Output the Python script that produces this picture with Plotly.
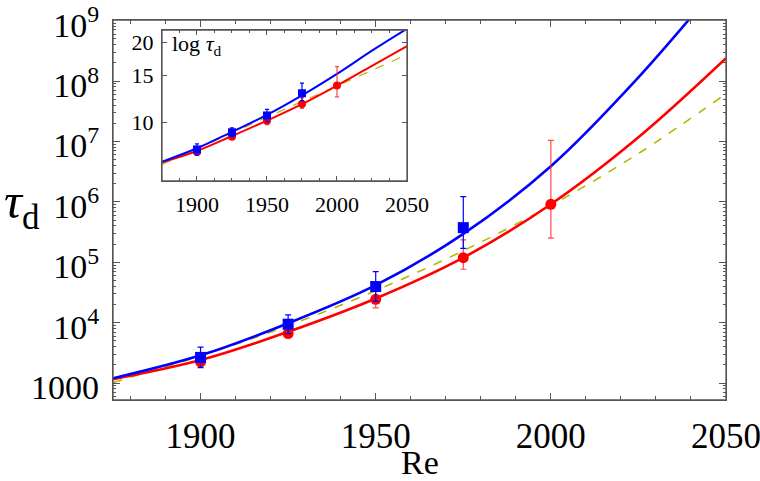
import numpy as np
import plotly.graph_objects as go

# ---------------- data ----------------
# measured points (Re, tau_d) with asymmetric error bars
red_re = [1900, 1925, 1950, 1975, 2000]
red_tau = [2250, 6600, 24400, 119000, 910000]
red_hi = [2600, 7600, 34000, 234000, 1.04e7]
red_lo = [1950, 5700, 17600, 76600, 2.5e5]

blue_re = [1900, 1925, 1950, 1975]
blue_tau = [2660, 9440, 39600, 374000]
blue_hi = [3940, 13500, 70000, 1.22e6]
blue_lo = [1800, 6600, 22500, 170000]

# fitted curves
fit_re = [1875, 1900, 1925, 1950, 1975, 2000, 2025, 2050]
blue_fit = [1.2e3, 2.88e3, 9.77e3, 4.17e4, 2.95e5, 3.89e6, 1.15e8, 5.6e9]
red_fit = [1.16e3, 2.40e3, 7.05e3, 2.51e4, 1.19e5, 9.12e5, 1.17e7, 2.38e8]
dash_fit = [1.02e3, 2.82e3, 8.91e3, 3.39e4, 1.55e5, 8.71e5, 6.31e6, 6.17e7]

x_ticks = [1900, 1950, 2000, 2050]
y_ticks = [1e3, 1e4, 1e5, 1e6, 1e7, 1e8, 1e9]
y_ticktext = ["1000", "10<sup>4</sup>", "10<sup>5</sup>", "10<sup>6</sup>",
              "10<sup>7</sup>", "10<sup>8</sup>", "10<sup>9</sup>"]
inset_y_ticks = [10, 15, 20]

# ---------------- styling ----------------
FONT = "Liberation Serif"
BLUE = "#0000ff"
RED = "#ff0000"
OLIVE = "#b5b500"
FRAME = "#555555"

fig = go.Figure()


def add_set(xa, ya, tf, lw, msize, ewidth):
    fig.add_trace(go.Scatter(x=fit_re, y=tf(dash_fit), mode="lines",
                             line=dict(color=OLIVE, width=lw * 0.6, dash="dash", shape="spline"),
                             xaxis=xa, yaxis=ya, showlegend=False, hoverinfo="skip"))
    fig.add_trace(go.Scatter(x=fit_re, y=tf(red_fit), mode="lines",
                             line=dict(color=RED, width=lw, shape="spline"),
                             xaxis=xa, yaxis=ya, showlegend=False, hoverinfo="skip"))
    fig.add_trace(go.Scatter(x=fit_re, y=tf(blue_fit), mode="lines",
                             line=dict(color=BLUE, width=lw, shape="spline"),
                             xaxis=xa, yaxis=ya, showlegend=False, hoverinfo="skip"))
    rt, rh, rl = tf(red_tau), tf(red_hi), tf(red_lo)
    fig.add_trace(go.Scatter(
        x=red_re, y=rt, mode="markers",
        marker=dict(symbol="circle", size=msize, color=RED),
        error_y=dict(type="data", symmetric=False,
                     array=[h - t for h, t in zip(rh, rt)],
                     arrayminus=[t - l for t, l in zip(rt, rl)],
                     color="rgba(255,40,40,0.85)", thickness=1.2, width=ewidth),
        xaxis=xa, yaxis=ya, showlegend=False))
    bt, bh, bl = tf(blue_tau), tf(blue_hi), tf(blue_lo)
    fig.add_trace(go.Scatter(
        x=blue_re, y=bt, mode="markers",
        marker=dict(symbol="square", size=msize, color=BLUE),
        error_y=dict(type="data", symmetric=False,
                     array=[h - t for h, t in zip(bh, bt)],
                     arrayminus=[t - l for t, l in zip(bt, bl)],
                     color=BLUE, thickness=1.2, width=ewidth),
        xaxis=xa, yaxis=ya, showlegend=False))


# main plot (tau_d)
add_set("x", "y", lambda v: list(v), 2.6, 11, 3)
# inset (log tau_d, natural log)
add_set("x2", "y2", lambda v: [float(np.log(t)) for t in v], 2.0, 8, 2)

axis_common = dict(showline=True, linecolor=FRAME, linewidth=1.3, mirror="allticks",
                   ticks="inside", tickcolor=FRAME, showgrid=False, zeroline=False,
                   automargin=False, ticklabeloverflow="allow")

fig.update_layout(
    width=760, height=481,
    margin=dict(l=113, r=34, t=20, b=81),
    paper_bgcolor="white", plot_bgcolor="white",
    font=dict(family=FONT, color="black"),
    xaxis=dict(domain=[0, 1], range=[1875, 2050], tickvals=x_ticks,
               ticklen=7, tickwidth=1.1,
               minor=dict(dtick=10, tick0=1900, ticks="inside", ticklen=4, tickcolor=FRAME, showgrid=False),
               tickfont=dict(size=35, family=FONT), ticklabelstandoff=5, **axis_common),
    yaxis=dict(domain=[0, 1], type="log", range=[2.72, 9.01], tickvals=y_ticks,
               ticktext=y_ticktext, ticklen=7, tickwidth=1.1, ticklabelshift=4,
               minor=dict(dtick="D1", ticks="inside", ticklen=3, tickcolor=FRAME, showgrid=False),
               tickfont=dict(size=34, family=FONT), ticklabelstandoff=6, **axis_common),
    xaxis2=dict(domain=[0.0799, 0.4796], anchor="y2", range=[1875, 2050], tickvals=x_ticks,
                ticklen=5, tickwidth=1,
                minor=dict(dtick=12.5, tick0=1900, ticks="inside", ticklen=3, tickcolor=FRAME, showgrid=False),
                tickfont=dict(size=22, family=FONT), ticklabelstandoff=3, **axis_common),
    yaxis2=dict(domain=[0.5763, 0.9737], anchor="x2", type="log",
                range=[np.log10(6.0), np.log10(22.2)], tickvals=inset_y_ticks,
                ticktext=[str(v) for v in inset_y_ticks], ticklen=5, tickwidth=1,
                tickfont=dict(size=22, family=FONT), ticklabelstandoff=3, **axis_common),
    shapes=[
        dict(type="rect", xref="x domain", yref="y domain", x0=0, x1=1, y0=0, y1=1,
             line=dict(color=FRAME, width=1.3), fillcolor="rgba(0,0,0,0)", layer="above"),
        dict(type="rect", xref="x2 domain", yref="y2 domain", x0=0, x1=1, y0=0, y1=1,
             line=dict(color=FRAME, width=1.3), fillcolor="rgba(0,0,0,0)", layer="above"),
    ],
    annotations=[
        dict(text="<i>τ</i><sub>d</sub>", xref="paper", yref="paper", x=-0.148, y=0.513,
             xanchor="center", yanchor="middle", showarrow=False,
             font=dict(size=50, family=FONT)),
        dict(text="Re", xref="paper", yref="paper", x=0.5, y=-0.165,
             xanchor="center", yanchor="middle", showarrow=False,
             font=dict(size=34, family=FONT)),
        dict(text="log <i>τ</i><sub>d</sub>", xref="paper", yref="paper", x=0.093, y=0.934,
             xanchor="left", yanchor="middle", showarrow=False,
             font=dict(size=22, family=FONT)),
    ],
)

# remove the browser's default 8 px body margin so the figure sits at the page origin
fig.write_html("out.html", config={"displayModeBar": False},
               post_script="document.body.style.margin='0';")
